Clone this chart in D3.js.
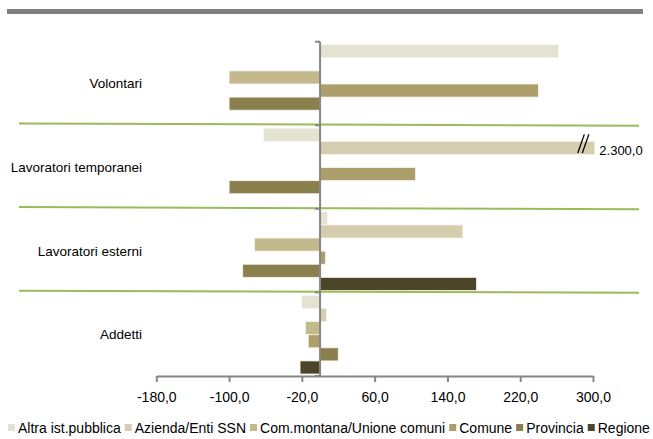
<!DOCTYPE html>
<html>
<head>
<meta charset="utf-8">
<script src="https://cdn.jsdelivr.net/npm/d3@7"></script>
<style>
  html, body { margin: 0; padding: 0; background: #fff; }
  svg { display: block; font-family: "Liberation Sans", Arial, sans-serif; }
</style>
</head>
<body>
<svg id="chart" width="653" height="439"></svg>
<script>
// ---- Data ----
const categories = ["Volontari", "Lavoratori temporanei", "Lavoratori esterni", "Addetti"];
const seriesNames = ["Altra ist.pubblica", "Azienda/Enti SSN", "Com.montana/Unione comuni", "Comune", "Provincia", "Regione"];
const altraIst = [262, -62, 8, -20];
const aziendaSSN = [0, 2300, 157, 7];
const comMontana = [-100, 0, -72, -16];
const comune = [240, 105, 6, -13];
const provincia = [-100, -100, -85, 20];
const regione = [0, 0, 172, -22];
const xTicks = [-180, -100, -20, 60, 140, 220, 300];
const xDomain = [-180, 300];
const breakCap = 302; // broken bar is drawn up to this value
const seriesColors = ["#e4e2d1", "#d4ceaf", "#c3b98d", "#ad9f6b", "#8b7f4d", "#4b452a"];

const seriesValues = [altraIst, aziendaSSN, comMontana, comune, provincia, regione];

// ---- Layout ----
const svg = d3.select("#chart");
const plot = { left: 156.3, right: 593, top: 41.7, bottom: 376 };

const loc = d3.formatLocale({ decimal: ",", thousands: ".", grouping: [3], currency: ["€", ""], minus: "-" });
const fmt = loc.format(",.1f");

const x = d3.scaleLinear().domain(xDomain).range([plot.left, plot.right]);
const y = d3.scaleBand().domain(categories).range([plot.top, plot.bottom]).padding(0);
const ys = d3.scaleBand().domain(seriesNames).range([0, y.bandwidth()])
  .paddingInner(0).paddingOuter(0.19).align(0.6);

// top grey rule
svg.append("rect").attr("x", 7).attr("y", 9).attr("width", 636).attr("height", 5).attr("fill", "#808080");

// bars
const bars = [];
categories.forEach((c, ci) => {
  seriesNames.forEach((s, si) => {
    const v = seriesValues[si][ci];
    if (v !== 0) bars.push({ c, s, si, v });
  });
});

svg.append("g").selectAll("rect").data(bars).join("rect")
  .attr("x", d => x(Math.min(0, d.v)))
  .attr("y", d => y(d.c) + ys(d.s))
  .attr("width", d => Math.abs(x(Math.min(d.v, breakCap)) - x(0)))
  .attr("height", ys.bandwidth())
  .attr("fill", d => seriesColors[d.si])
  .attr("stroke", "#f7f6ef").attr("stroke-width", 0.8);

// break marks & label for values beyond the axis
const broken = bars.filter(d => d.v > xDomain[1]);
broken.forEach(d => {
  const xe = x(breakCap);
  const yt = y(d.c) + ys(d.s);
  const yb = yt + ys.bandwidth();
  [-17, -12.5].forEach(off => {
    svg.append("line")
      .attr("x1", xe + off).attr("y1", yb - 1.5)
      .attr("x2", xe + off + 6.5).attr("y2", yt - 7)
      .attr("stroke", "#000").attr("stroke-width", 1.3);
  });
  svg.append("text")
    .attr("x", xe + 4.5).attr("y", yb + 0.5)
    .attr("font-size", 13).attr("fill", "#000")
    .text(fmt(d.v));
});

// green separators between categories
categories.slice(1).forEach(c => {
  const yy = y(c);
  svg.append("line")
    .attr("x1", 19).attr("y1", yy - 1.8)
    .attr("x2", 639).attr("y2", yy + 0.4)
    .attr("stroke", "#9bbb59").attr("stroke-width", 2);
});

// vertical category axis at zero
const yAxisG = svg.append("g");
yAxisG.append("line")
  .attr("x1", x(0)).attr("x2", x(0))
  .attr("y1", plot.top).attr("y2", plot.bottom)
  .attr("stroke", "#868686").attr("stroke-width", 2);
const bounds = categories.map(c => y(c)).concat([plot.bottom]);
yAxisG.selectAll("line.tk").data(bounds).join("line").attr("class", "tk")
  .attr("x1", x(0) - 5).attr("x2", x(0))
  .attr("y1", d => d).attr("y2", d => d)
  .attr("stroke", "#868686").attr("stroke-width", 2);

// category labels
svg.append("g").selectAll("text").data(categories).join("text")
  .attr("x", 142).attr("y", c => y(c) + y.bandwidth() / 2 + 5)
  .attr("text-anchor", "end").attr("font-size", 13.5).attr("fill", "#000")
  .text(c => c);

// x axis
const xAxis = d3.axisBottom(x).tickValues(xTicks).tickFormat(fmt).tickSize(6).tickPadding(10).tickSizeOuter(0);
const xg = svg.append("g").attr("transform", `translate(0,${plot.bottom})`).call(xAxis);
xg.select(".domain").attr("stroke", "#868686").attr("stroke-width", 2);
xg.selectAll(".tick line").attr("stroke", "#868686").attr("stroke-width", 2);
xg.selectAll(".tick text").attr("font-size", 14).attr("fill", "#000")
  .attr("font-family", "Liberation Sans, Arial, sans-serif");

// legend
const lg = svg.append("g");
let lx = 8;
seriesNames.forEach((s, i) => {
  lg.append("rect").attr("x", lx).attr("y", 424).attr("width", 7).attr("height", 7).attr("fill", seriesColors[i]);
  const t = lg.append("text").attr("x", lx + 10).attr("y", 432.5)
    .attr("font-size", 14).attr("fill", "#000").text(s);
  lx += 10 + t.node().getComputedTextLength() + 4;
});
</script>
</body>
</html>
